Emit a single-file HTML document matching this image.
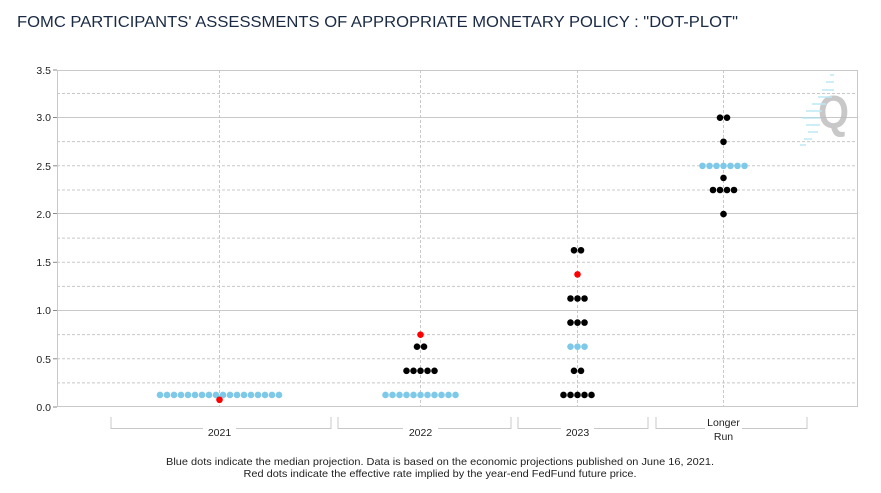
<!DOCTYPE html>
<html><head><meta charset="utf-8"><style>
body{margin:0;background:#fff;}
svg{display:block;font-family:"Liberation Sans",sans-serif;}
</style></head><body>
<svg width="881" height="493" viewBox="0 0 881 493" xmlns="http://www.w3.org/2000/svg">
<text x="17" y="27" font-size="15.5" fill="#1a2a44" textLength="721" lengthAdjust="spacingAndGlyphs">FOMC PARTICIPANTS' ASSESSMENTS OF APPROPRIATE MONETARY POLICY : "DOT-PLOT"</text>
<g stroke="#c8c8c8" stroke-width="1" stroke-dasharray="3,2">
<line x1="57" x2="858" y1="382.9" y2="382.9"/><line x1="57" x2="858" y1="358.8" y2="358.8"/><line x1="57" x2="858" y1="334.6" y2="334.6"/>
<line x1="57" x2="858" y1="286.4" y2="286.4"/><line x1="57" x2="858" y1="262.3" y2="262.3"/><line x1="57" x2="858" y1="238.1" y2="238.1"/>
<line x1="57" x2="858" y1="190" y2="190"/><line x1="57" x2="858" y1="165.8" y2="165.8"/><line x1="57" x2="858" y1="141.6" y2="141.6"/>
<line x1="57" x2="858" y1="93.5" y2="93.5"/>
<line x1="219.5" x2="219.5" y1="70" y2="407"/><line x1="420.5" x2="420.5" y1="70" y2="407"/><line x1="577.5" x2="577.5" y1="70" y2="407"/><line x1="723.5" x2="723.5" y1="70" y2="407"/>
</g>
<g stroke="#c8c8c8" stroke-width="1">
<line x1="57" x2="858" y1="310.5" y2="310.5"/><line x1="57" x2="858" y1="213.5" y2="213.5"/><line x1="57" x2="858" y1="117.5" y2="117.5"/>
<rect x="57.5" y="70.5" width="800" height="336" fill="none"/>
<polyline fill="none" points="111,417 111,428.5 203,428.5"/><polyline fill="none" points="236,428.5 331,428.5 331,417"/>
<polyline fill="none" points="338,417 338,428.5 403,428.5"/><polyline fill="none" points="438,428.5 511,428.5 511,417"/>
<polyline fill="none" points="518,417 518,428.5 561,428.5"/><polyline fill="none" points="594,428.5 648,428.5 648,417"/>
<polyline fill="none" points="656,417 656,428.5 705,428.5"/><polyline fill="none" points="742,428.5 807,428.5 807,417"/>
</g>
<g stroke="#888"><line x1="53" x2="57" y1="407" y2="407"/><line x1="53" x2="57" y1="358.8" y2="358.8"/><line x1="53" x2="57" y1="310.5" y2="310.5"/><line x1="53" x2="57" y1="262.3" y2="262.3"/><line x1="53" x2="57" y1="213.5" y2="213.5"/><line x1="53" x2="57" y1="165.8" y2="165.8"/><line x1="53" x2="57" y1="117.5" y2="117.5"/><line x1="53" x2="57" y1="70" y2="70"/></g>
<g font-size="10.5" fill="#222" text-anchor="end">
<text x="51" y="411">0.0</text><text x="51" y="363">0.5</text><text x="51" y="314">1.0</text><text x="51" y="266">1.5</text><text x="51" y="218">2.0</text><text x="51" y="170">2.5</text><text x="51" y="121">3.0</text><text x="51" y="74">3.5</text>
</g>
<g font-size="10.5" fill="#222" text-anchor="middle">
<text x="219.5" y="436">2021</text><text x="420.5" y="436">2022</text><text x="577.5" y="436">2023</text>
<text x="723.5" y="426">Longer</text><text x="723.5" y="440">Run</text>
<text x="440" y="465" textLength="548" lengthAdjust="spacingAndGlyphs">Blue dots indicate the median projection. Data is based on the economic projections published on June 16, 2021.</text>
<text x="440" y="477" textLength="393" lengthAdjust="spacingAndGlyphs">Red dots indicate the effective rate implied by the year-end FedFund future price.</text>
</g>
<g opacity="0.8">
<text x="818" y="128" font-size="46" font-weight="bold" fill="#bbb" textLength="31" lengthAdjust="spacingAndGlyphs">Q</text>
<g stroke="#aee4f2" stroke-width="1.5">
<line x1="830" y1="75" x2="834" y2="75"/><line x1="826" y1="82" x2="834" y2="82"/><line x1="822" y1="90" x2="834" y2="90"/><line x1="818" y1="97" x2="832" y2="97"/><line x1="812" y1="104" x2="826" y2="104"/><line x1="806" y1="111" x2="822" y2="111"/><line x1="802" y1="118" x2="820" y2="118"/><line x1="806" y1="125" x2="820" y2="125"/><line x1="808" y1="132" x2="818" y2="132"/><line x1="804" y1="139" x2="812" y2="139"/><line x1="800" y1="145" x2="806" y2="145"/>
</g></g>
<g id="dots"></g>
</svg>
<script>
const y=v=>407-v*96.45;
const g=document.getElementById('dots');
function row(cx,v,n,col){for(let i=0;i<n;i++){const x=cx+(i-(n-1)/2)*7;const c=document.createElementNS('http://www.w3.org/2000/svg','circle');c.setAttribute('cx',x);c.setAttribute('cy',y(v));c.setAttribute('r',3.3);c.setAttribute('fill',col);g.appendChild(c);}}
const B='#7ec8e8',K='#000',R='#f00';
row(219.5,0.125,18,B);row(219.5,0.075,1,R);
row(420.5,0.125,11,B);row(420.5,0.375,5,K);row(420.5,0.625,2,K);row(420.5,0.75,1,R);
row(577.5,0.125,5,K);row(577.5,0.375,2,K);row(577.5,0.625,3,B);row(577.5,0.875,3,K);row(577.5,1.125,3,K);row(577.5,1.375,1,R);row(577.5,1.625,2,K);
row(723.5,2.0,1,K);row(723.5,2.25,4,K);row(723.5,2.375,1,K);row(723.5,2.5,7,B);row(723.5,2.75,1,K);row(723.5,3.0,2,K);
</script>
</body></html>
